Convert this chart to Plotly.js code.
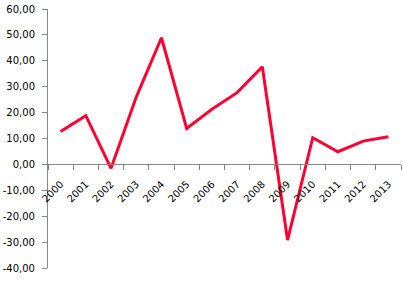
<!DOCTYPE html>
<html>
<head>
<meta charset="utf-8">
<script src="https://cdn.plot.ly/plotly-3.0.1.min.js"></script>
<style>html,body{margin:0;padding:0;background:#fff;}#chart{width:403px;height:281px;}</style>
</head>
<body>
<div id="chart"></div>
<script>
const years = ["2000","2001","2002","2003","2004","2005","2006","2007","2008","2009","2010","2011","2012","2013"];
const values = [12.7, 18.8, -1.5, 26.0, 48.9, 13.9, 21.3, 27.7, 37.7, -29.2, 10.3, 4.9, 9.0, 10.7];
const yTickVals = [-40, -30, -20, -10, 0, 10, 20, 30, 40, 50, 60];
const yTickText = ["-40,00", "-30,00", "-20,00", "-10,00", "0,00", "10,00", "20,00", "30,00", "40,00", "50,00", "60,00"];
const yMin = -40, yMax = 60;

const trace = {
  x: years, y: values, type: 'scatter', mode: 'lines',
  line: {color: 'rgb(255,0,51)', width: 3},
  hoverinfo: 'skip'
};
const layout = {
  width: 403, height: 281,
  margin: {l: 48, r: 2, t: 9, b: 13, pad: 0},
  paper_bgcolor: '#fff', plot_bgcolor: '#fff',
  showlegend: false,
  font: {family: 'DejaVu Sans, Verdana, sans-serif', size: 10, color: '#000'},
  xaxis: {
    type: 'category', range: [-0.5, years.length - 0.5],
    anchor: 'free', position: (0 - yMin) / (yMax - yMin),
    showline: true, linecolor: '#868686', linewidth: 1,
    ticks: 'outside', ticklen: 5, tickcolor: '#868686', tickson: 'boundaries',
    tickangle: -45, showgrid: false, zeroline: false,
    ticklabelstandoff: 9,
    tickfont: {size: 10}
  },
  yaxis: {
    range: [yMin, yMax], tickmode: 'array', tickvals: yTickVals, ticktext: yTickText,
    showline: true, linecolor: '#868686', linewidth: 1,
    ticks: 'outside', ticklen: 5, tickcolor: '#868686',
    showgrid: false, zeroline: false,
    ticklabelstandoff: 5,
    tickfont: {size: 10}
  }
};
Plotly.newPlot('chart', [trace], layout, {displayModeBar: false, staticPlot: true});
</script>
</body>
</html>
